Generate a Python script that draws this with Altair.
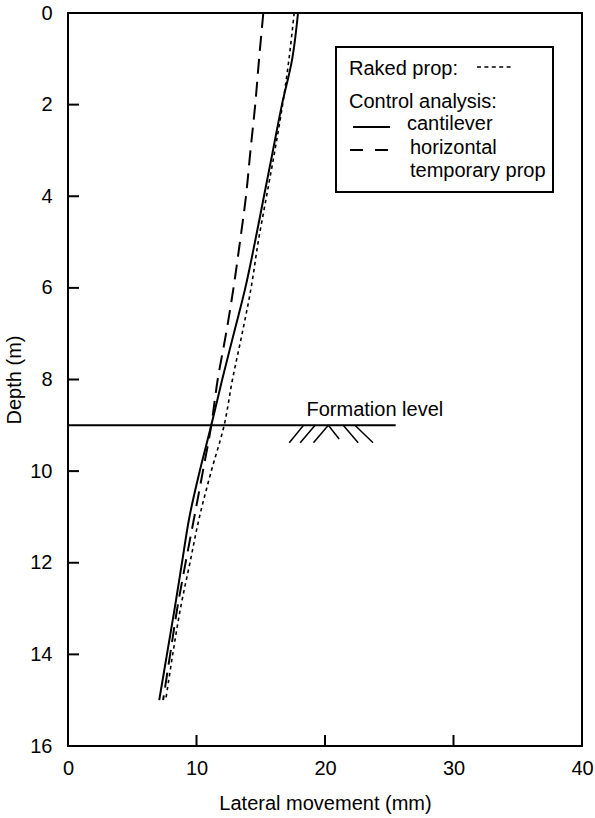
import altair as alt
import pandas as pd

depth = [0, 1, 2, 3, 4, 5, 6, 7, 8, 9, 10, 11, 12, 13, 14, 15]
cantilever = [17.9, 17.45, 16.65, 15.95, 15.25, 14.55, 13.8, 12.9, 12.0, 11.15, 10.25, 9.45, 8.87, 8.3, 7.7, 7.1]
raked = [17.6, 17.2, 16.7, 16.1, 15.45, 14.8, 14.25, 13.55, 12.8, 12.15, 11.15, 10.23, 9.49, 8.75, 8.15, 7.6]
horizontal = [15.2, 14.87, 14.57, 14.2, 13.85, 13.38, 12.88, 12.3, 11.65, 11.15, 10.5, 9.83, 9.15, 8.5, 7.95, 7.4]

x_ticks = [10, 20, 30]
y_ticks = [2, 4, 6, 8, 10, 12, 14]
x_labels = [0, 10, 20, 30, 40]
y_labels = [0, 2, 4, 6, 8, 10, 12, 14, 16]

formation_depth = 9
formation_x = [0, 25.5]
formation_label = "Formation level"

# hatch segments under formation line (mm, m)
hatch_x1 = [17.22, 18.07, 19.10, 20.26, 21.42, 22.33]
hatch_y1 = [9.38, 9.38, 9.38, 9.0, 9.0, 9.0]
hatch_x2 = [18.33, 19.23, 20.26, 21.10, 22.58, 23.74]
hatch_y2 = [9.0, 9.0, 9.0, 9.30, 9.38, 9.38]

legend_labels = ["Raked prop:", "Control analysis:", "cantilever", "horizontal", "temporary prop"]

FONT = "Liberation Sans"
FS = 20
W, H = 514, 733

xscale = alt.Scale(domain=[0, 40], nice=False, zero=False)
yscale = alt.Scale(domain=[0, 16], reverse=True, nice=False, zero=False)

x_axis = alt.Axis(values=x_labels, title="Lateral movement (mm)", labelFontSize=FS, titleFontSize=FS,
                  titleFontWeight="normal", domain=False, ticks=False, grid=False, labelFlush=False,
                  labelOverlap=False, labelPadding=12, titlePadding=15, labelColor="black", titleColor="black")
y_axis = alt.Axis(values=y_labels, title="Depth (m)", labelFontSize=FS, titleFontSize=FS,
                  titleFontWeight="normal", domain=False, ticks=False, grid=False, labelFlush=False,
                  labelOverlap=False, labelPadding=16, titlePadding=5, labelColor="black", titleColor="black")


def X(field):
    return alt.X(field, scale=xscale, axis=x_axis)


def Y(field):
    return alt.Y(field, scale=yscale, axis=y_axis)


def series_df(vals):
    return pd.DataFrame({"depth": depth, "mm": vals})


line_cant = alt.Chart(series_df(cantilever)).mark_line(
    color="black", strokeWidth=2, interpolate="catmull-rom").encode(
    x=X("mm:Q"), y=Y("depth:Q"), order="depth:Q")
line_raked = alt.Chart(series_df(raked)).mark_line(
    color="black", strokeWidth=1.6, strokeDash=[3.5, 3.5], interpolate="catmull-rom").encode(
    x=X("mm:Q"), y=Y("depth:Q"), order="depth:Q")
line_horiz = alt.Chart(series_df(horizontal)).mark_line(
    color="black", strokeWidth=2, strokeDash=[15, 8], interpolate="catmull-rom").encode(
    x=X("mm:Q"), y=Y("depth:Q"), order="depth:Q")

formation = alt.Chart(pd.DataFrame({"mm": [formation_x[0]], "x2": [formation_x[1]], "depth": [formation_depth]})).mark_rule(
    color="black", strokeWidth=2).encode(x=X("mm:Q"), x2="x2:Q", y=Y("depth:Q"))

formation_text = alt.Chart(pd.DataFrame({"mm": [18.56], "depth": [formation_depth], "t": [formation_label]})).mark_text(
    align="left", baseline="bottom", dy=-5, fontSize=FS, font=FONT, color="black").encode(
    x=X("mm:Q"), y=Y("depth:Q"), text="t:N")

hatch = alt.Chart(pd.DataFrame({"mm": hatch_x1, "depth": hatch_y1, "x2": hatch_x2, "y2": hatch_y2})).mark_rule(
    color="black", strokeWidth=1.5).encode(x=X("mm:Q"), y=Y("depth:Q"), x2="x2:Q", y2="y2:Q")

ytick_layer = alt.Chart(pd.DataFrame({"depth": y_ticks})).mark_rule(color="black", strokeWidth=2).encode(
    y=Y("depth:Q"), x=alt.value(0), x2=alt.value(11))
xtick_layer = alt.Chart(pd.DataFrame({"mm": x_ticks})).mark_rule(color="black", strokeWidth=2).encode(
    x=X("mm:Q"), y=alt.value(H), y2=alt.value(H - 11))

# legend box
box = alt.Chart(pd.DataFrame({"a": [0]})).mark_rect(fill="white", stroke="black", strokeWidth=2).encode(
    x=alt.value(268), x2=alt.value(485), y=alt.value(34), y2=alt.value(179))

legend_pos = [(281, 56), (281, 89), (339, 111), (342, 135), (342, 158)]
legend_layers = []
for lab, (lx, ly) in zip(legend_labels, legend_pos):
    legend_layers.append(
        alt.Chart(pd.DataFrame({"t": [lab]})).mark_text(align="left", baseline="middle", fontSize=FS,
                                                       font=FONT, color="black").encode(
            x=alt.value(lx), y=alt.value(ly), text="t:N"))

sample_dot = alt.Chart(pd.DataFrame({"a": [0]})).mark_rule(color="black", strokeWidth=1.5, strokeDash=[4, 3.4]).encode(
    x=alt.value(409), x2=alt.value(446), y=alt.value(54))
sample_solid = alt.Chart(pd.DataFrame({"a": [0]})).mark_rule(color="black", strokeWidth=2).encode(
    x=alt.value(285), x2=alt.value(322), y=alt.value(114))
sample_dash = alt.Chart(pd.DataFrame({"a": [0]})).mark_rule(color="black", strokeWidth=2, strokeDash=[13, 12]).encode(
    x=alt.value(282), x2=alt.value(322), y=alt.value(137))

chart = alt.layer(
    line_cant, line_raked, line_horiz, formation, formation_text, hatch, ytick_layer, xtick_layer,
    box, *legend_layers, sample_dot, sample_solid, sample_dash
).properties(
    width=W, height=H,
    padding={"left": 68, "top": 13, "right": 13, "bottom": 72},
    autosize=alt.AutoSizeParams(type="none"),
).configure(font=FONT).configure_view(stroke="black", strokeWidth=2)

chart.save("out.html", embed_options={"renderer": "svg", "actions": False})
